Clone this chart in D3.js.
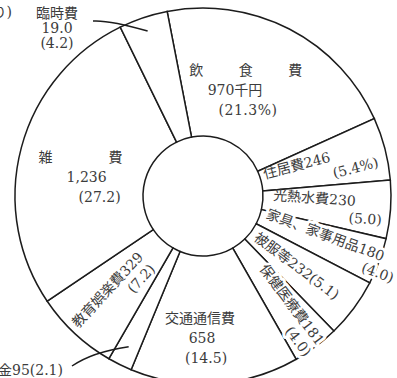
<!DOCTYPE html>
<html>
<head>
<meta charset="utf-8">
<script src="https://cdn.jsdelivr.net/npm/d3@7"></script>
<style>
    body { margin: 0; background: #fff; }
    text { font-family: "DejaVu Serif", "Noto Sans CJK JP", serif; font-size: 14px; fill: #3c3c3c; }
</style>
</head>
<body>
<svg id="chart" width="397" height="378"></svg>
<script>
// household spending (thousand yen) and share (%)
const categories = ["飲食費", "住居費", "光熱水費", "家具、家事用品", "被服等", "保健医療費",
    "交通通信費", "仕送り金", "教育娯楽費", "雑費", "臨時費"];
const amounts = [970, 246, 230, 180, 232, 181, 658, 95, 329, 1236, 19.0];
const percents = [21.3, 5.4, 5.0, 4.0, 5.1, 4.0, 14.5, 2.1, 7.2, 27.2, 4.2];

const cx = 203, cy = 196, rIn = 60, rOut = 188;
const startDeg = -11;

const svg = d3.select('#chart');
const g = svg.append('g').attr('transform', `translate(${cx},${cy})`);

const rad = d => d * Math.PI / 180;
const deg = r => r * 180 / Math.PI;
const polar = (r, a) => [r * Math.sin(rad(a)), -r * Math.cos(rad(a))];

const data = categories.map((c, i) => ({ name: c, amount: amounts[i], pct: percents[i] }));

const pie = d3.pie()
    .sort(null)
    .value(d => d.pct)
    .startAngle(rad(startDeg))
    .endAngle(rad(startDeg + 360));
const arcs = pie(data);
const mid = a => deg((a.startAngle + a.endAngle) / 2);

const arc = d3.arc().innerRadius(rIn).outerRadius(rOut);

g.selectAll('path.slice')
    .data(arcs)
    .join('path')
    .attr('class', 'slice')
    .attr('d', arc)
    .attr('fill', '#fff')
    .attr('stroke', '#1c1c1c')
    .attr('stroke-width', 1.5);

const fmt = d3.format(',');
const amt = i => i === 10 ? amounts[i].toFixed(1) : fmt(amounts[i]);
const pct = (i, sign) => `(${percents[i].toFixed(1)}${sign ? '%' : ''})`;

// horizontal blocks inside the big slices
let blocks = [
    { i: 0, r: 113, da: -6.6, lines: ["飲　　食　　費", amt(0) + "千円", pct(0, true)], dx: [4, -8, 5], ls: [2.5, 0, 0.5] },
    { i: 6, r: 142, da: 3.6, lines: ["交通通信費", amt(6), pct(6)], dx: [-3, -1, 3], ls: [0, 0, 0] },
    { i: 9, r: 117, da: -5.5, lines: ["雑　　　　費", amt(9), pct(9)], dx: [-7, -1, 12], ls: [0, 0, 0] }
];

blocks.forEach(b => {
    let p = polar(b.r, mid(arcs[b.i]) + b.da);
    let t = g.append('text').attr('text-anchor', 'middle');
    b.lines.forEach((s, k) => {
        t.append('tspan')
            .attr('x', p[0] + b.dx[k])
            .attr('y', p[1] + (k - 1) * 20 + 5)
            .attr('letter-spacing', b.ls[k])
            .text(s);
    });
});

// labels written along the narrow slices
let radial = [
    { i: 1, r1: 64, r2: 178, lines: [categories[1] + amt(1), pct(1, true)] },
    { i: 2, r1: 70, r2: 180, lines: [categories[2] + amt(2), pct(2)] },
    { i: 3, r1: 66, r2: 207, lines: [categories[3] + amt(3), pct(3)], halo: true },
    { i: 4, r1: 66, lines: [categories[4] + amt(4) + pct(4)], halo: true },
    { i: 5, r1: 92, r2: 190, lines: [categories[5] + amt(5), pct(5)], halo: true },
    { i: 8, r1: 182, r2: 86, lines: [categories[8] + amt(8), pct(8)], left: true }
];

radial.forEach(l => {
    let a = mid(arcs[l.i]);
    let lg = g.append('g').attr('transform', `rotate(${l.left ? a + 90 : a - 90})`);
    let two = l.lines.length > 1;
    let t1 = lg.append('text')
        .attr('x', l.left ? -l.r1 : l.r1)
        .attr('y', (two ? -6 : 0) + 5)
        .text(l.lines[0]);
    let items = [t1];
    if (two) {
        let t2 = lg.append('text')
            .attr('text-anchor', 'end')
            .attr('x', l.left ? -l.r2 : l.r2)
            .attr('y', 11 + 5)
            .text(l.lines[1]);
        items.push(t2);
    }
    if (l.halo) {
        items.forEach(t => t.attr('stroke', '#fff').attr('stroke-width', 6)
            .attr('paint-order', 'stroke').attr('stroke-linejoin', 'round'));
    }
});

// small slices labelled outside with a leader
let tmpPt = polar(174, mid(arcs[10]));
svg.append('path')
    .attr('d', `M93,21 Q110,20 ${cx + tmpPt[0]},${cy + tmpPt[1]}`)
    .attr('fill', 'none').attr('stroke', '#1c1c1c').attr('stroke-width', 1.5);
let tt = svg.append('text').attr('text-anchor', 'middle');
[categories[10], amt(10), pct(10)].forEach((s, k) => {
    tt.append('tspan').attr('x', 57).attr('y', 18 + k * 15).text(s);
});

let smallPt = polar(168, mid(arcs[7]));
svg.append('path')
    .attr('d', `M72,366 Q92,352 ${cx + smallPt[0]},${cy + smallPt[1]}`)
    .attr('fill', 'none').attr('stroke', '#1c1c1c').attr('stroke-width', 1.5);
svg.append('text')
    .attr('text-anchor', 'end')
    .attr('x', 63).attr('y', 375)
    .text(categories[7] + amt(7) + pct(7));

// caption cut at the left edge
svg.append('text')
    .attr('text-anchor', 'end')
    .attr('x', 12).attr('y', 17)
    .text('(1世帯当たり)');
</script>
</body>
</html>
